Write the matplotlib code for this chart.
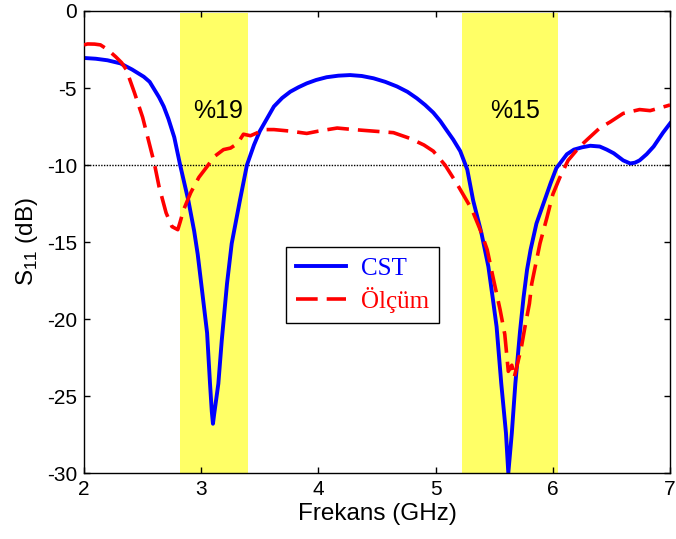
import matplotlib
matplotlib.use("Agg")
import matplotlib.pyplot as plt

plt.rcParams['font.family'] = ['Liberation Sans', 'DejaVu Sans']
plt.rcParams['axes.unicode_minus'] = False

# CST simulation
f_cst = [2.00, 2.10, 2.20, 2.31, 2.41, 2.51, 2.56, 2.60, 2.64, 2.68, 2.72, 2.77,
         2.82, 2.89, 2.94, 2.97, 3.00, 3.05, 3.075, 3.09, 3.10, 3.11, 3.146, 3.175,
         3.22, 3.26, 3.33, 3.39, 3.45, 3.50, 3.56, 3.62, 3.69, 3.76, 3.83, 3.90,
         3.98, 4.07, 4.17, 4.27, 4.37, 4.47, 4.57, 4.67, 4.76, 4.84, 4.91, 4.98,
         5.04, 5.09, 5.15, 5.21, 5.27, 5.32, 5.39, 5.45, 5.49, 5.52, 5.56, 5.60,
         5.62, 5.65, 5.68, 5.72, 5.75, 5.78, 5.81, 5.86, 5.92, 5.98, 6.03, 6.06,
         6.12, 6.18, 6.25, 6.32, 6.40, 6.46, 6.52, 6.60, 6.66, 6.70, 6.74, 6.80,
         6.86, 6.94, 7.00]
s_cst = [-3.05, -3.1, -3.2, -3.4, -3.8, -4.27, -4.6, -5.1, -5.6, -6.2, -7.0, -8.2,
         -10.0, -12.3, -14.3, -15.8, -17.7, -20.9, -24.2, -26.0, -26.8, -26.2, -24.2, -21.4,
         -17.7, -15.1, -12.3, -10.0, -8.7, -7.8, -7.0, -6.2, -5.65, -5.24, -4.95, -4.7,
         -4.48, -4.3, -4.2, -4.16, -4.22, -4.37, -4.6, -4.9, -5.25, -5.67, -6.1, -6.6,
         -7.15, -7.7, -8.35, -9.1, -10.3, -12.3, -14.4, -16.6, -18.8, -20.5, -24.2, -27.4,
         -30.0, -27.4, -24.2, -20.8, -18.6, -16.8, -15.5, -13.8, -12.5, -11.2, -10.2, -9.9,
         -9.3, -9.0, -8.85, -8.75, -8.8, -9.0, -9.24, -9.7, -9.9, -9.85, -9.7, -9.3,
         -8.8, -7.9, -7.3]

# measured
f_meas = [2.00, 2.03, 2.09, 2.14, 2.20, 2.27, 2.32, 2.36, 2.43, 2.50, 2.55, 2.60,
          2.64, 2.70, 2.75, 2.80, 2.82, 2.85, 2.91, 2.98, 3.05, 3.11, 3.19, 3.25,
          3.31, 3.36, 3.42, 3.54, 3.62, 3.76, 3.90, 4.00, 4.16, 4.30, 4.47, 4.64,
          4.78, 4.90, 4.98, 5.08, 5.18, 5.31, 5.38, 5.44, 5.49, 5.55, 5.59, 5.62,
          5.65, 5.67, 5.73, 5.76, 5.80, 5.82, 5.89, 5.95, 6.00, 6.06, 6.13, 6.23,
          6.30, 6.40, 6.49, 6.60, 6.74, 6.83, 6.97, 7.00]
s_meas = [-2.2, -2.14, -2.15, -2.2, -2.5, -2.97, -3.35, -3.8, -5.3, -6.9, -8.4, -9.9,
          -11.4, -13.1, -14.0, -14.2, -13.7, -12.9, -11.8, -10.8, -10.1, -9.46, -9.0, -8.9,
          -8.6, -8.0, -8.1, -7.7, -7.7, -7.8, -7.95, -7.8, -7.6, -7.7, -7.8, -7.9,
          -8.27, -8.7, -9.1, -10.0, -11.2, -12.9, -14.2, -15.5, -17.3, -19.4, -21.0, -23.4,
          -23.0, -23.8, -21.9, -20.6, -19.0, -17.7, -15.1, -13.4, -11.9, -10.8, -9.7, -8.8,
          -8.3, -7.6, -7.2, -6.65, -6.4, -6.47, -6.17, -6.1]

bands = [(2.82, 3.40), (5.225, 6.04)]
band_labels = ['%19', '%15']
label_pos = [(3.14, -6.5), (5.68, -6.5)]

fig = plt.figure(figsize=(6.76, 5.39), dpi=100)
ax = fig.add_axes([0.1243, 0.1224, 0.8669, 0.8572])

for (lo, hi), txt, (tx, ty) in zip(bands, band_labels, label_pos):
    ax.axvspan(lo, hi, ymin=0, ymax=0.996, color='#ffff66', lw=0, zorder=0)
    ax.text(tx, ty, txt, fontsize=18, ha='center', va='center', zorder=4)

ax.axhline(-10, color='black', lw=1.0, ls=(0, (1, 1)), zorder=1)

ax.plot(f_cst, s_cst, color='#0000ff', lw=2.8, label='CST', zorder=2,
        solid_joinstyle='round')
ax.plot(f_meas, s_meas, color='#ff0000', lw=2.6, ls=(0, (6, 2.5)), label='Ölçüm',
        zorder=3)

ax.set_xlim(2, 7)
ax.set_ylim(-30, 0)
ax.set_xticks([2, 3, 4, 5, 6, 7])
ax.set_yticks([-30, -25, -20, -15, -10, -5, 0])
ax.tick_params(direction='in', top=True, right=True, length=4.5, width=1,
               labelsize=15, pad=5)
for sp in ax.spines.values():
    sp.set_linewidth(1.0)

ax.set_xlabel('Frekans (GHz)', fontsize=17.5, labelpad=3)
ax.set_ylabel(r'S$_{\mathregular{11}}$ (dB)', fontsize=17.5, labelpad=5)

leg = ax.legend(loc='upper left', bbox_to_anchor=(0.345, 0.489), borderaxespad=0,
                fancybox=False, edgecolor='black', framealpha=1,
                prop={'family': 'Liberation Serif', 'size': 18},
                handlelength=2.0, borderpad=0.4, labelspacing=0.3, handletextpad=0.6)
leg.get_frame().set_linewidth(1.0)
for t, c in zip(leg.get_texts(), ['#0000ff', '#ff0000']):
    t.set_color(c)

fig.savefig('out.png', dpi=100)
